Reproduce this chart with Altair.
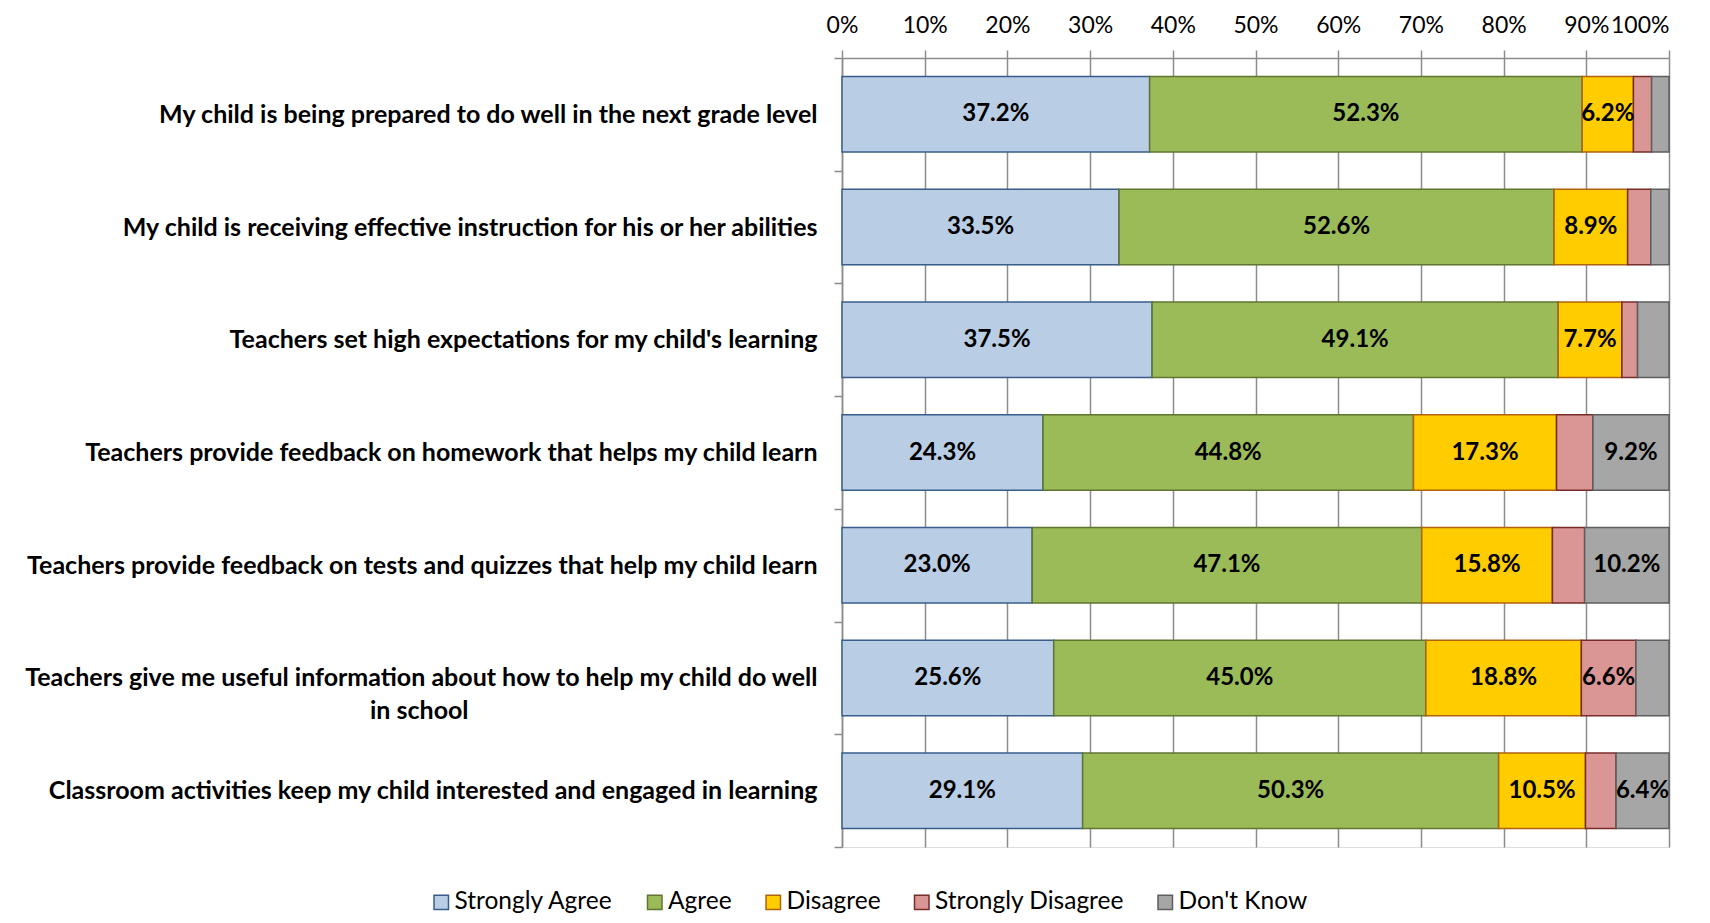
import altair as alt
import pandas as pd

questions = [
    "My child is being prepared to do well in the next grade level",
    "My child is receiving effective instruction for his or her abilities",
    "Teachers set high expectations for my child's learning",
    "Teachers provide feedback on homework that helps my child learn",
    "Teachers provide feedback on tests and quizzes that help my child learn",
    "Teachers give me useful information about how to help my child do well in school",
    "Classroom activities keep my child interested and engaged in learning",
]
responses = ["Strongly Agree", "Agree", "Disagree", "Strongly Disagree", "Don't Know"]
strongly_agree = [37.2, 33.5, 37.5, 24.3, 23.0, 25.6, 29.1]
agree = [52.3, 52.6, 49.1, 44.8, 47.1, 45.0, 50.3]
disagree = [6.2, 8.9, 7.7, 17.3, 15.8, 18.8, 10.5]
strongly_disagree = [2.2, 2.8, 1.9, 4.4, 3.9, 6.6, 3.7]
dont_know = [2.1, 2.2, 3.8, 9.2, 10.2, 4.0, 6.4]
x_ticks = [0, 10, 20, 30, 40, 50, 60, 70, 80, 90, 100]

fill_colors = ["#B9CDE5", "#9BBB59", "#FFCC00", "#D99694", "#A6A6A6"]
stroke_colors = ["#385D8A", "#5F7530", "#B0620F", "#772C2A", "#5E5E5E"]

series = [strongly_agree, agree, disagree, strongly_disagree, dont_know]
rows = []
for qi, q in enumerate(questions):
    start = 0.0
    for ri, resp in enumerate(responses):
        v = series[ri][qi]
        rows.append({
            "question": q, "response": resp, "order": ri, "value": v,
            "x0": start, "x1": start + v, "mid": start + v / 2,
        })
        start += v
df = pd.DataFrame(rows)

# wrapped label: second line centred under the first by trailing em spaces,
# closed by a blank (non-whitespace) glyph so they are not trimmed
label_expr = (
    "indexof(datum.label, 'Teachers give me') == 0 ? "
    "['Teachers give me useful information about how to help my child do well', "
    "'in school" + "\u2003" * 17 + "\u00a0\u00a0" + "\u2800" + "'] : datum.label"
)

FONT = "Lato"
GRID = "#8C8C8C"

y_enc = alt.Y(
    "question:N",
    sort=questions,
    title=None,
    scale=alt.Scale(paddingInner=0, paddingOuter=0),
    axis=alt.Axis(
        labelExpr=label_expr,
        labelFont=FONT,
        labelFontSize=25,
        labelFontWeight="bold",
        labelColor="#000000",
        labelLimit=1200,
        labelLineHeight=33,
        labelPadding=17,
        tickBand="extent",
        tickSize=8,
        tickColor=GRID,
        tickWidth=1.5,
        domainColor=GRID,
        domainWidth=1.5,
        grid=False,
    ),
)

legend_cfg = dict(
    title=None,
    orient="none",
    direction="horizontal",
    columns=5,
    legendX=-413,
    legendY=832,
    symbolType="square",
    symbolSize=210,
    symbolStrokeWidth=1.5,
    labelFont=FONT,
    labelFontSize=24.5,
    labelColor="#000000",
    labelLimit=400,
    labelOffset=1,
    columnPadding=28.5,
)

bars = alt.Chart(df).mark_bar(strokeWidth=1.5, height=alt.RelativeBandSize(0.67)).encode(
    x=alt.X(
        "x0:Q",
        title=None,
        scale=alt.Scale(domain=[0, 100], nice=False),
        axis=alt.Axis(
            orient="top",
            values=x_ticks,
            labelExpr="datum.value + '%'",
            labelFont=FONT,
            labelFontSize=23,
            labelColor="#000000",
            labelPadding=13,
            labelFlush=False,
            labelAlign={"condition": {"test": "datum.value >= 100", "value": "right"}, "value": "center"},
            tickSize=8,
            tickColor=GRID,
            tickWidth=1.5,
            domainColor=GRID,
            domainWidth=1.5,
            grid=True,
            gridColor=GRID,
            gridWidth=1.5,
        ),
    ),
    x2="x1:Q",
    y=y_enc,
    fill=alt.Fill(
        "response:N",
        sort=responses,
        scale=alt.Scale(domain=responses, range=fill_colors),
        legend=alt.Legend(**legend_cfg),
    ),
    stroke=alt.Stroke(
        "response:N",
        sort=responses,
        scale=alt.Scale(domain=responses, range=stroke_colors),
        legend=alt.Legend(**legend_cfg),
    ),
)

texts = alt.Chart(df).transform_filter("datum.value > 5").transform_calculate(
    label="format(datum.value, '.1f') + '%'",
).mark_text(font=FONT, fontSize=24, fontWeight="bold", color="#000000", baseline="middle").encode(
    x="mid:Q",
    y=alt.Y("question:N", sort=questions),
    text="label:N",
)

chart = (
    alt.layer(bars, texts)
    .properties(
        width=827,
        height=789,
        autosize=alt.AutoSizeParams(type="none"),
        padding={"left": 834, "top": 50, "right": 30, "bottom": 66},
    )
    .configure_view(stroke=None)
    .configure(background="#FFFFFF")
)

chart.save("out.html", embed_options={"renderer": "svg", "actions": False})
